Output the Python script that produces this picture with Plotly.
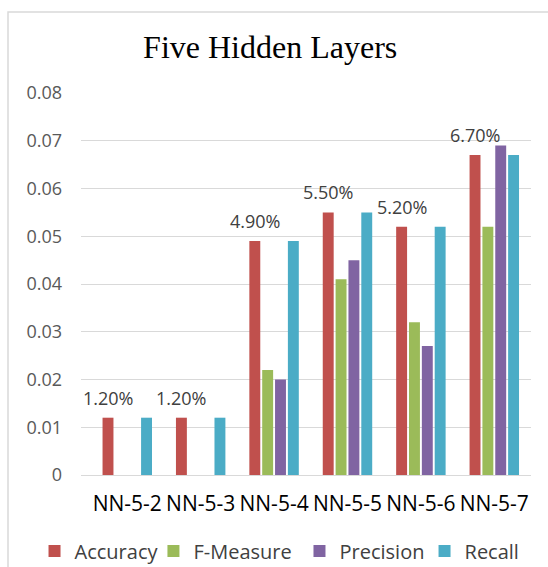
import plotly.graph_objects as go

# Model variants (five hidden layers, 2..7 neurons)
categories = ["NN-5-2", "NN-5-3", "NN-5-4", "NN-5-5", "NN-5-6", "NN-5-7"]

accuracy = [0.012, 0.012, 0.049, 0.055, 0.052, 0.067]
f_measure = [0, 0, 0.022, 0.041, 0.032, 0.052]
precision = [0, 0, 0.020, 0.045, 0.027, 0.069]
recall = [0.012, 0.012, 0.049, 0.055, 0.052, 0.067]

series = [
    ("Accuracy", accuracy, "#C0504D"),
    ("F-Measure", f_measure, "#9BBB59"),
    ("Precision", precision, "#8064A2"),
    ("Recall", recall, "#4BACC6"),
]

BAR_GAP = 0.3
GROUP_GAP = 0.15
SANS = "Open Sans, Arial, sans-serif"

# One single-entry legend per series so the row can span the full chart width
legend_ids = ["legend", "legend2", "legend3", "legend4"]
legend_x = [0.063, 0.280, 0.5465, 0.7747]

fig = go.Figure()
for (name, vals, color), lid in zip(series, legend_ids):
    fig.add_trace(go.Bar(
        name=name, x=categories, y=vals, legend=lid,
        marker=dict(color=color, line=dict(width=0)),
    ))

# Percentage labels centred over the Accuracy bar of each group
slot = (1 - BAR_GAP) / len(series)
acc_offset = -(1 - BAR_GAP) / 2 + slot / 2
for i, v in enumerate(accuracy):
    fig.add_annotation(
        x=i + acc_offset, y=v, xref="x", yref="y",
        text=f"{v * 100:.2f}%", showarrow=False,
        yanchor="middle", yshift=20,
        font=dict(family=SANS, size=18, color="#404040"),
    )

# Light chart-area border
fig.add_shape(
    type="rect", xref="paper", yref="paper",
    x0=-0.1622, x1=1.2, y0=-0.6, y1=1.212,
    line=dict(color="#D9D9D9", width=1.5), fillcolor="rgba(0,0,0,0)",
    layer="below",
)

legend_style = dict(
    orientation="h", xref="container", yref="container",
    xanchor="left", y=0.0282, yanchor="middle",
    font=dict(family=SANS, size=20, color="#404040"),
    itemwidth=30, bgcolor="rgba(0,0,0,0)",
)

fig.update_layout(
    width=548, height=567,
    margin=dict(l=81, r=17, t=93, b=92),
    paper_bgcolor="white", plot_bgcolor="white",
    barmode="group", bargap=BAR_GAP, bargroupgap=GROUP_GAP,
    title=dict(
        text="Five Hidden Layers", xref="container", yref="container",
        x=0.493, y=0.917, xanchor="center", yanchor="middle",
        font=dict(family="Liberation Serif, Times New Roman, serif", size=32, color="#000000"),
    ),
    xaxis=dict(
        type="category", showgrid=False, showline=False, zeroline=False,
        tickfont=dict(family=SANS, size=21, color="#000000"),
        ticks="", ticklabelstandoff=14, automargin=False,
    ),
    yaxis=dict(
        range=[0, 0.08], dtick=0.01, showgrid=True, gridcolor="#D9D9D9", gridwidth=1,
        zeroline=True, zerolinecolor="#D9D9D9", zerolinewidth=1, showline=False,
        tickfont=dict(family=SANS, size=18, color="#595959"),
        ticks="", ticklabelstandoff=18, automargin=False,
    ),
    showlegend=True,
)
for lid, lx in zip(legend_ids, legend_x):
    fig.update_layout({lid: dict(legend_style, x=lx)})

fig.write_html("out.html")
